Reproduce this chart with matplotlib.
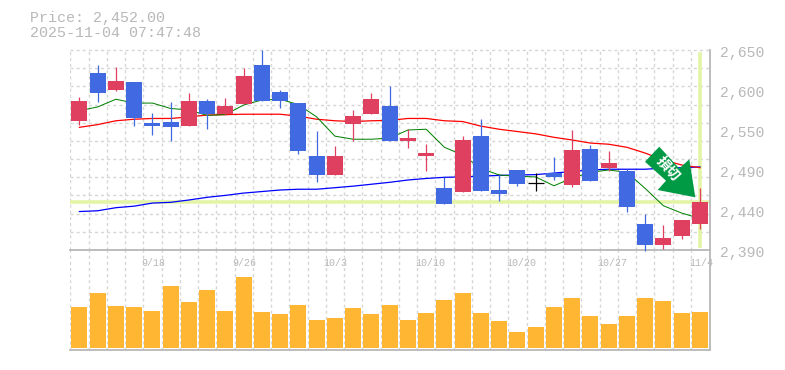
import matplotlib
matplotlib.use("Agg")
import matplotlib.pyplot as plt
from matplotlib.patches import Polygon
from matplotlib.transforms import ScaledTranslation

# ---- data ----
opens  = [2558,2620,2598,2608,2555,2556,2551,2584,2567,2580,2630,2595,2581,2512,2487,2554,2567,2577,
          2532,2512,2471,2465,2538,2468,2494,2477,2490,2474,2521,2497,2493,2424,2397,2408,2424]
closes = [2584,2594,2610,2562,2551,2550,2584,2567,2577,2616,2584,2584,2519,2487,2512,2564,2586,2532,
          2536,2516,2450,2533,2467,2463,2476,2477,2485,2520,2480,2503,2446,2397,2406,2429,2452]
highs  = [2589,2630,2628,2608,2568,2582,2594,2586,2588,2627,2650,2598,2581,2545,2525,2572,2594,2603,
          2547,2528,2485,2538,2560,2487,2494,2490,2511,2546,2526,2519,2495,2437,2422,2429,2471]
lows   = [2552,2582,2597,2551,2540,2532,2551,2547,2565,2580,2584,2575,2515,2478,2487,2532,2567,2532,
          2523,2493,2450,2465,2467,2454,2473,2467,2481,2472,2480,2493,2439,2389,2391,2404,2417]
ma_green = [2571,2576,2586,2581,2581,2574,2572,2565,2566,2578.5,2585,2586,2579,2563,2538,2534,2534,2535.5,
            2546,2547,2523.5,2513.5,2496,2487.5,2486,2485,2473.5,2483.5,2491,2494,2491,2470,2447.5,2438,2431]
ma_red = [2549.5,2553,2558,2560,2561,2561,2563,2565.5,2566,2566.5,2566.5,2566.5,2564,2560,2558,2557,2558,2558.5,
          2561,2561,2558,2557,2551,2547,2544,2541,2536.5,2533,2529,2527.5,2523.5,2516,2507,2500.5,2497]
ma_blue = [2440,2441,2445,2447,2451,2452,2455,2458.5,2461,2464,2466,2468,2469,2469,2471,2473,2475.5,2478,
           2481,2483,2484.5,2485,2486,2487,2487.5,2488,2490,2492,2494,2495,2495,2495,2496.5,2497,2498]
volumes = [124,166,127,124,112,187,139,175,112,214,109,103,130,85,91,121,103,130,
           85,106,145,166,106,82,49,64,124,151,97,73,97,151,142,106,109]
current_price = 2452
x_labels = {4:"9/18", 9:"9/26", 14:"10/3", 19:"10/10", 24:"10/20", 29:"10/27", 34:"11/4"}
y_tick_values = [2650,2598,2546,2494,2442,2390]
y_tick_labels = ["2,650","2,600","2,550","2,490","2,440","2,390"]
title_lines = ["Price: 2,452.00", "2025-11-04 07:47:48"]
signal_text = "損切"

# ---- style ----
W, H = 785, 370
GRAY = "#b8b8b8"; GRID = "#d6d6d6"; YEL = "#e3f4a6"
RED = "#e04060"; BLUE = "#4169e1"; ORANGE = "#ffb733"; ARROW = "#009944"
MONO = "Liberation Mono"

fig = plt.figure(figsize=(W/100, H/100), dpi=100, facecolor="white")
def box(l, t, r, b):
    return [l/W, 1-b/H, (r-l)/W, (b-t)/H]

ax_v = fig.add_axes(box(70, 250, 710, 350), zorder=1)
ax = fig.add_axes(box(70, 50, 710, 250), zorder=2)
ax.patch.set_alpha(0)

n = len(opens)
xs = list(range(n))
xlim = (-0.515, 34.55)
for a in (ax, ax_v):
    a.set_xlim(*xlim)
    a.set_axisbelow(True)
    for s in ("top", "left"):
        a.spines[s].set_visible(False)
    for s in ("right", "bottom"):
        a.spines[s].set_color(GRAY)
        a.spines[s].set_linewidth(1.3)
ax.set_ylim(2390, 2650)
ax_v.set_ylim(-5, 295)

# grids
grid_x = [i-0.5 for i in range(n)]
ax.set_xticks(grid_x, [x_labels.get(i, "") for i in range(n)])
ax_v.set_xticks(grid_x, [])
ax.tick_params(axis="x", length=0, pad=6, labelsize=7.2, labelcolor=GRAY)
ax_v.tick_params(axis="both", length=0)
ax_v.set_yticks([])
xoff = ScaledTranslation(-2/100, 0, fig.dpi_scale_trans)
for lab in ax.get_xticklabels():
    lab.set_ha("left"); lab.set_family(MONO)
    lab.set_transform(lab.get_transform()+xoff)
ax.grid(False); ax_v.grid(False)
dash = dict(color=GRID, lw=1.0, ls=(0, (2.2, 2.2)))
for gx in grid_x:
    ax.axvline(gx, zorder=0, **dash)
    ax_v.axvline(gx, zorder=0, **dash)
step = (2650-2390)/11
for k in range(1, 12):
    ax.axhline(2390+k*step, zorder=0, clip_on=False, **dash)

# y labels on right
ax.yaxis.tick_right()
ax.set_yticks(y_tick_values, y_tick_labels)
ax.tick_params(axis="y", length=0, pad=7, labelsize=10.6, labelcolor=GRAY)
off = ScaledTranslation(0, -2/100, fig.dpi_scale_trans)
for lab in ax.get_yticklabels():
    lab.set_family(MONO)
    lab.set_transform(lab.get_transform()+off)

# current price guides
ax.axhline(current_price, color=YEL, lw=2.6, zorder=1)
ax.plot([xs[-1], xs[-1]], [2392, 2648], color=YEL, lw=2.6, zorder=1, solid_capstyle="butt")

# moving averages
ax.plot(xs, ma_blue, color="#0000ff", lw=0.9, zorder=2)
ax.plot(xs, ma_red, color="#ff0000", lw=0.9, zorder=2)
ax.plot(xs, ma_green, color="#008000", lw=0.72, zorder=2)

# candles
bw = 16/18.25
for i in xs:
    o, c, h, l = opens[i], closes[i], highs[i], lows[i]
    col = RED if c > o else BLUE if c < o else "black"
    ax.vlines(i, l, h, color=col, lw=0.9, zorder=3, clip_on=False)
    if c == o:
        ax.hlines(c, i-bw/2, i+bw/2, color=col, lw=0.9, zorder=3)
    else:
        ax.bar(i, abs(c-o), bottom=min(o, c), width=bw, color=col, linewidth=0, zorder=4)

# volume
ax_v.bar(xs, volumes, width=bw, color=ORANGE, linewidth=0, zorder=2)

# overlay in pixel units
ov = fig.add_axes([0, 0, 1, 1], zorder=5)
ov.set_xlim(0, W); ov.set_ylim(H, 0); ov.axis("off")
arrow_outline = [(659.3,146.7),(645,161.7),(666,180.7),(657.7,190),(695.3,197.3),(689.3,159.3),(679.3,168.5)]
ov.add_patch(Polygon(arrow_outline, closed=True, facecolor=ARROW, edgecolor="none"))
ov.text(668, 169, signal_text, color="white", fontsize=10, fontweight="bold",
        family=["Noto Sans CJK JP", "DejaVu Sans"], rotation=-48, rotation_mode="anchor",
        ha="center", va="center")
for line, y in zip(title_lines, (18, 33)):
    ov.text(30, y, line, color=GRAY, fontsize=10.8, family=MONO, ha="left", va="center")

fig.savefig("out.png", dpi=100)
